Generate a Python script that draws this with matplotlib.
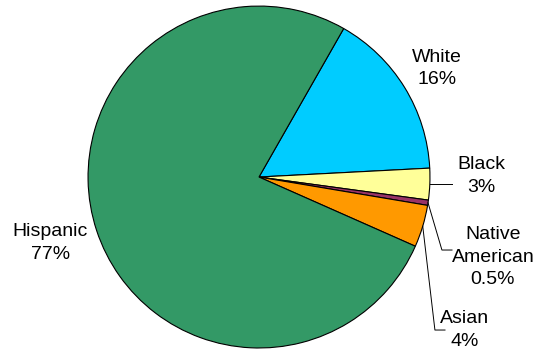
import numpy as np
import matplotlib
matplotlib.use("Agg")
import matplotlib.pyplot as plt

categories = ["White", "Black", "Native\nAmerican", "Asian", "Hispanic"]
shares = [16, 3, 0.5, 4, 77]
pct_labels = ["16%", "3%", "0.5%", "4%", "77%"]
colors = ["#00CCFF", "#FFFF99", "#993366", "#FF9900", "#339966"]

plt.rcParams["font.family"] = ["Liberation Sans", "DejaVu Sans"]

fig = plt.figure(figsize=(5.51, 3.52), dpi=100)
ax = fig.add_axes([0, 0, 1, 1])
ax.axis("off")

wedges, _ = ax.pie(
    shares, colors=colors, startangle=60.3, counterclock=False,
    radius=1.0, center=(0, 0),
    wedgeprops=dict(edgecolor="black", linewidth=0.8),
)
ax.set_aspect("equal")
ax.set_xlim(-1.515, 1.708)
ax.set_ylim(-1.023, 1.035)

# label positions (data coords) and optional leader-line bends
label_pos = [(1.041, 0.636), (1.298, 0.006), (1.368, -0.468),
             (1.205, -0.895), (-1.222, -0.386)]
leaders = {
    1: [(1.129, None)],
    2: [(1.070, -0.427), (1.129, -0.427)],
    3: [(1.029, -0.895), (1.088, -0.895)],
}

for i, (w, name, pct) in enumerate(zip(wedges, categories, pct_labels)):
    x, y = label_pos[i]
    ax.text(x, y, f"{name}\n{pct}", ha="center", va="center",
            multialignment="center", fontsize=14, color="black",
            linespacing=1.42)
    if i in leaders:
        mid = np.deg2rad((w.theta1 + w.theta2) / 2)
        px, py = np.cos(mid), np.sin(mid)
        xs, ys = [px], [py]
        for bx, by in leaders[i]:
            xs.append(bx)
            ys.append(py if by is None else by)
        ax.plot(xs, ys, color="black", linewidth=0.7)

fig.savefig("out.png", dpi=100)
